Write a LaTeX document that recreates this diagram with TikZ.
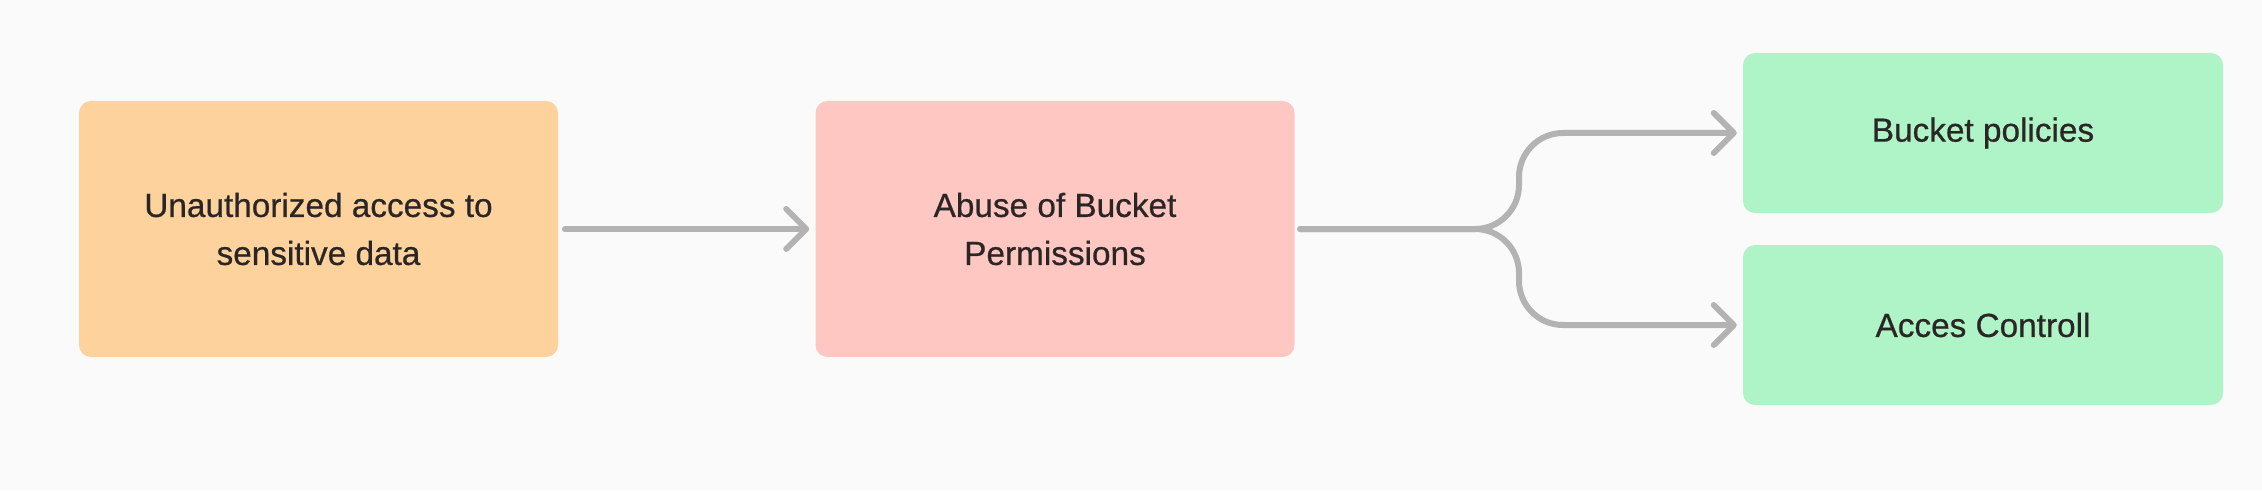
\documentclass[tikz,border=0pt]{standalone}
\usepackage{xcolor}
\usepackage{fontspec}
\setmainfont{Liberation Sans}[FakeBold=0.6]
\usetikzlibrary{arrows.meta}
\definecolor{bgcol}{HTML}{FAFAFA}
\definecolor{orangebox}{HTML}{FDD29C}
\definecolor{redbox}{HTML}{FFC7C2}
\definecolor{greenbox}{HTML}{AFF4C6}
\definecolor{linkcol}{HTML}{B3B3B3}
\definecolor{txtcol}{HTML}{2B2626}
\tikzset{flowbox/.style={rounded corners=9pt,align=center,text=txtcol,
    font=\fontsize{25}{36}\selectfont,inner sep=0pt},
  bigbox/.style={flowbox,minimum width=359.25pt,minimum height=192pt},
  smallbox/.style={flowbox,minimum width=360pt,minimum height=120pt},
  link/.style={draw=linkcol,line width=4.5pt,line cap=round,
    -{Straight Barb[length=15pt,width=30pt,line width=4.5pt,line cap=round,line join=round]}}}

\begin{document}
\begin{tikzpicture}[x=0.75pt,y=0.75pt]
    \fill[bgcol] (0,0) rectangle (2262,490);
    \useasboundingbox (0,0) rectangle (2262,490);

    \node [bigbox,fill=orangebox] (threat) at (318.5,261) {Unauthorized access to\\sensitive data};
    \node [bigbox,fill=redbox] (abuse) at (1055,261) {Abuse of Bucket\\Permissions};
    \node [smallbox,fill=greenbox] (policies) at (1983,357) {Bucket policies};
    \node [smallbox,fill=greenbox] (control) at (1983,165) {Acces Controll};

    \coordinate (fork) at (1519,261);

    \draw [link,shorten <=5pt,shorten >=4.5pt] (threat) -- (abuse);
    \draw [link,rounded corners=33pt,shorten >=4.5pt] ([xshift=4pt]abuse.east) -- (fork) |- (policies.west);
    \draw [link,rounded corners=33pt,shorten >=4.5pt] ([xshift=4pt]abuse.east) -- (fork) |- (control.west);
\end{tikzpicture}
\end{document}
